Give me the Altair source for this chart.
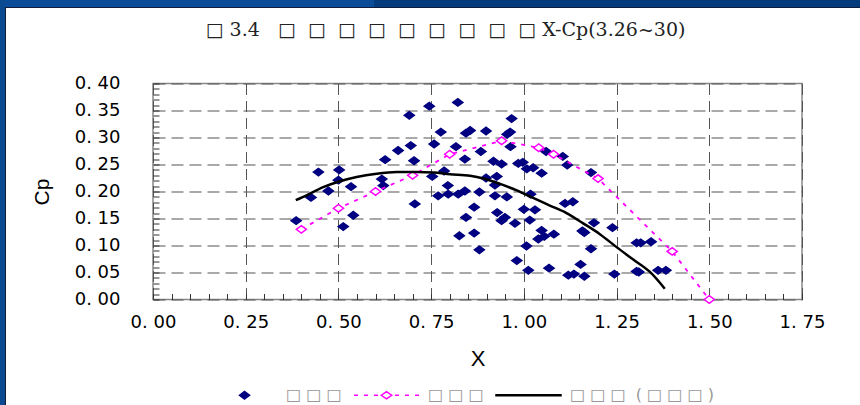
import altair as alt
import pandas as pd

# ---------------- data ----------------
BLUE_X = [0.386, 0.426, 0.446, 0.473, 0.502, 0.500, 0.534, 0.540, 0.513, 0.626,
          0.617, 0.621, 0.661, 0.691, 0.745, 0.822, 0.695, 0.704, 0.758, 0.776,
          0.855, 0.844, 0.898, 0.817, 0.841, 0.884, 0.753, 0.785, 0.795, 0.769,
          0.796, 0.823, 0.841, 0.880, 0.898, 0.918, 0.927, 0.922, 0.922, 0.706,
          0.866, 0.844, 0.928, 0.866, 0.826, 0.880, 0.967, 0.963, 0.955, 0.964,
          0.940, 0.985, 0.997, 1.008, 1.025, 1.048, 0.954, 1.018, 1.000, 1.030,
          1.016, 0.976, 0.949, 0.940, 1.007, 0.981, 1.012, 1.068, 1.120, 1.135,
          1.163, 1.153, 1.244, 1.304, 1.310, 1.362, 1.383, 1.304, 1.315, 1.343,
          1.239, 1.189, 1.181, 1.158, 1.163, 1.111, 1.132, 1.048, 1.039, 1.055,
          1.081, 1.060, 1.105, 1.117, 1.181]
BLUE_Y = [0.146, 0.189, 0.236, 0.201, 0.240, 0.221, 0.209, 0.156, 0.135, 0.259,
          0.223, 0.211, 0.276, 0.341, 0.358, 0.365, 0.285, 0.257, 0.288, 0.310,
          0.313, 0.308, 0.312, 0.283, 0.260, 0.274, 0.228, 0.238, 0.211, 0.192,
          0.195, 0.195, 0.201, 0.199, 0.225, 0.256, 0.228, 0.212, 0.192, 0.177,
          0.171, 0.152, 0.161, 0.123, 0.118, 0.092, 0.335, 0.310, 0.306, 0.283,
          0.251, 0.252, 0.254, 0.242, 0.244, 0.234, 0.190, 0.195, 0.167, 0.166,
          0.147, 0.141, 0.152, 0.146, 0.099, 0.072, 0.054, 0.058, 0.045, 0.047,
          0.043, 0.065, 0.047, 0.052, 0.051, 0.054, 0.054, 0.105, 0.105, 0.107,
          0.133, 0.142, 0.094, 0.127, 0.124, 0.178, 0.181, 0.128, 0.112, 0.117,
          0.121, 0.274, 0.265, 0.249, 0.235]

PINK_X = [0.40, 0.50, 0.60, 0.70, 0.80, 0.94, 1.04, 1.08, 1.20, 1.40, 1.50]
PINK_Y = [0.130, 0.169, 0.200, 0.230, 0.269, 0.294, 0.281, 0.269, 0.224, 0.089, 0.000]

CURVE_X = [0.385, 0.414, 0.459, 0.504, 0.549, 0.603, 0.657, 0.711, 0.756, 0.801,
           0.855, 0.891, 0.936, 0.981, 1.025, 1.070, 1.115, 1.160, 1.205, 1.250,
           1.295, 1.340, 1.380]
CURVE_Y = [0.184, 0.193, 0.208, 0.219, 0.227, 0.233, 0.236, 0.236, 0.235, 0.232,
           0.229, 0.224, 0.214, 0.202, 0.188, 0.174, 0.160, 0.141, 0.121, 0.097,
           0.074, 0.051, 0.020]

X_TICKS = [0.0, 0.25, 0.5, 0.75, 1.0, 1.25, 1.5, 1.75]
Y_TICKS = [0.0, 0.05, 0.10, 0.15, 0.20, 0.25, 0.30, 0.35, 0.40]
X_MINOR = [round(i * 0.05, 2) for i in range(36)]
Y_MINOR = [round(i * 0.01, 2) for i in range(41)]

NB = "\u00a0"
SERIES = ["s1", "s2", "s3"]
SERIES_LABELS = ["□ □ □", "□ □ □", "□ □ □" + NB + NB + "(" + NB + "□ □ □" + NB + ")"]
SERIES_FILL = ["#000080", "#ffffff", "#000000"]
SERIES_STROKE = ["#000080", "#FF00FF", "#000000"]
TITLE = ("□ 3.4" + NB + NB + " □ " + NB + "□ " + NB + "□ " + NB + "□ " + NB + "□ "
         + NB + "□ " + NB + "□ " + NB + "□ " + NB + "□ X-Cp(3.26~30)")
X_TITLE = "X"
Y_TITLE = "Cp"

# ---------------- build ----------------
blue = pd.DataFrame({"x": BLUE_X, "y": BLUE_Y, "series": SERIES[0]})
pink = pd.DataFrame({"x": PINK_X, "y": PINK_Y})
curve = pd.DataFrame({"x": CURVE_X, "y": CURVE_Y})
one = pd.DataFrame({"a": [0]})

# symbol paths in the unit box, drawn at size 4225 (radius 32.5 px)
SYM_DIAMOND = ("M-0.155,0L0,-0.115L0.155,0L0,0.115Z"
               "M-1,0L-0.999,0M0.999,0L1,0")
SYM_PINK = ("M-1,0L-0.877,0M-0.692,0L-0.569,0M-0.385,0L-0.262,0"
            "M0.262,0L0.385,0M0.569,0L0.692,0M0.877,0L1,0"
            "M-0.16,0L0,-0.11L0.16,0L0,0.11Z")
SYM_BLACK = "M-1,-0.015L1,-0.015L1,0.015L-1,0.015Z"
BIG = 4225

LBL = "replace(format(datum.value, '.2f'), '.', '. ')"
FONT = "DejaVu Sans"

xs = alt.Scale(domain=[0, 1.75], nice=False, zero=False)
ys = alt.Scale(domain=[0, 0.40], nice=False, zero=False)

x_main = alt.Axis(values=X_TICKS, labelExpr=LBL, labelFont=FONT, labelFontSize=18,
                  labelColor="#000", labelPadding=23, labelBaseline="middle",
                  labelFlush=False, labelOverlap=False, ticks=False, tickSize=0,
                  domain=False, grid=True, gridColor="#555", gridDash=[11, 6],
                  gridWidth=1, title=X_TITLE, titleFont="Liberation Sans",
                  titleFontSize=22, titleFontWeight="normal", titleColor="#000",
                  titleBaseline="middle", titleY=59)
y_main = alt.Axis(values=Y_TICKS, labelExpr=LBL, labelFont=FONT, labelFontSize=18,
                  labelColor="#000", labelPadding=33, labelBaseline="middle",
                  labelFlush=False, labelOverlap=False, ticks=False, tickSize=0,
                  domain=False, grid=True, gridColor="#555", gridDash=[12, 6],
                  gridWidth=1.2, title=Y_TITLE, titleFont="Liberation Sans",
                  titleFontSize=21, titleFontWeight="normal", titleColor="#000",
                  titleAngle=270, titleAlign="center", titleBaseline="middle",
                  titleX=-111, titleY=108)
x_minor = alt.Axis(values=X_MINOR, orient="bottom", labels=False, domain=False,
                   grid=False, ticks=True, tickSize=6, tickColor="#333",
                   tickWidth=1, offset=-6, title=None)
y_minor = alt.Axis(values=Y_MINOR, orient="left", labels=False, domain=False,
                   grid=False, ticks=True, tickSize=6, tickColor="#333",
                   tickWidth=1, offset=-6, title=None)

lab_expr = ("datum.value === 's1' ? '%s' : datum.value === 's2' ? '%s' : '%s'"
            % tuple(SERIES_LABELS))
legend = alt.Legend(
    orient="none", legendX=58, legendY=278, direction="horizontal", title=None,
    symbolSize=BIG, symbolStrokeWidth=1.5, padding=0, columnPadding=9, labelOffset=8,
    labelExpr=lab_expr, labelFont=FONT, labelFontSize=16, labelColor="#999",
    symbolOpacity=1,
)

scatter = alt.Chart(blue).mark_point(filled=True, size=BIG, opacity=1, strokeWidth=1.5).encode(
    x=alt.X("x:Q", scale=xs, axis=x_main),
    y=alt.Y("y:Q", scale=ys, axis=y_main),
    fill=alt.Fill("series:N", scale=alt.Scale(domain=SERIES, range=SERIES_FILL), legend=legend),
    stroke=alt.Stroke("series:N", scale=alt.Scale(domain=SERIES, range=SERIES_STROKE), legend=legend),
    shape=alt.Shape("series:N", scale=alt.Scale(domain=SERIES, range=[SYM_DIAMOND, SYM_PINK, SYM_BLACK]),
                    legend=legend),
)
pink_line = alt.Chart(pink).mark_line(color="#FF00FF", strokeWidth=1.8, strokeDash=[4, 6]).encode(
    x=alt.X("x:Q", scale=xs, axis=x_minor),
    y=alt.Y("y:Q", scale=ys, axis=y_minor),
)
pink_pts = alt.Chart(pink).mark_point(shape=SYM_DIAMOND, filled=True, fill="white", stroke="#FF00FF",
                                      strokeWidth=1.5, size=BIG, opacity=1).encode(
    x=alt.X("x:Q", scale=xs, axis=None),
    y=alt.Y("y:Q", scale=ys, axis=None),
)
trend = alt.Chart(curve).mark_line(color="black", strokeWidth=2.5, interpolate="monotone").encode(
    x=alt.X("x:Q", scale=xs, axis=None),
    y=alt.Y("y:Q", scale=ys, axis=None),
)

# slide frame (decoration around the chart)
def band(x1, x2, y1, y2, color):
    return alt.Chart(one).mark_rect(color=color).encode(
        x=alt.value(x1), x2=alt.value(x2), y=alt.value(y1), y2=alt.value(y2))

PL, PT = 153, 83.5
frame = [
    band(-PL, 374 - PL, -PT, 7 - PT, "#0a4c98"),
    band(374 - PL, 860 - PL, -PT, 7 - PT, "#023b7b"),
    band(-PL, 5 - PL, -PT, 405 - PT, "#0a4a90"),
    band(5 - PL, 860 - PL, 7 - PT, 8 - PT, "#101c3c"),
    band(5 - PL, 6 - PL, 7 - PT, 405 - PT, "#101c3c"),
]

chart = alt.layer(*frame, scatter, pink_line, pink_pts, trend).properties(
    width=649, height=216,
    title=alt.TitleParams(TITLE, font="DejaVu Serif", fontSize=19, fontWeight="normal",
                          color="#222", anchor="middle", frame="group", dx=-32,
                          offset=-40),
    padding={"left": PL, "top": PT, "right": 860 - PL - 649, "bottom": 405 - PT - 216},
    autosize=alt.AutoSizeParams(type="none"),
).resolve_axis(x="independent", y="independent").configure(
    background="white"
).configure_view(stroke="#888888", strokeWidth=1.5)

chart.save("out.html", embed_options={"renderer": "svg", "actions": False})
